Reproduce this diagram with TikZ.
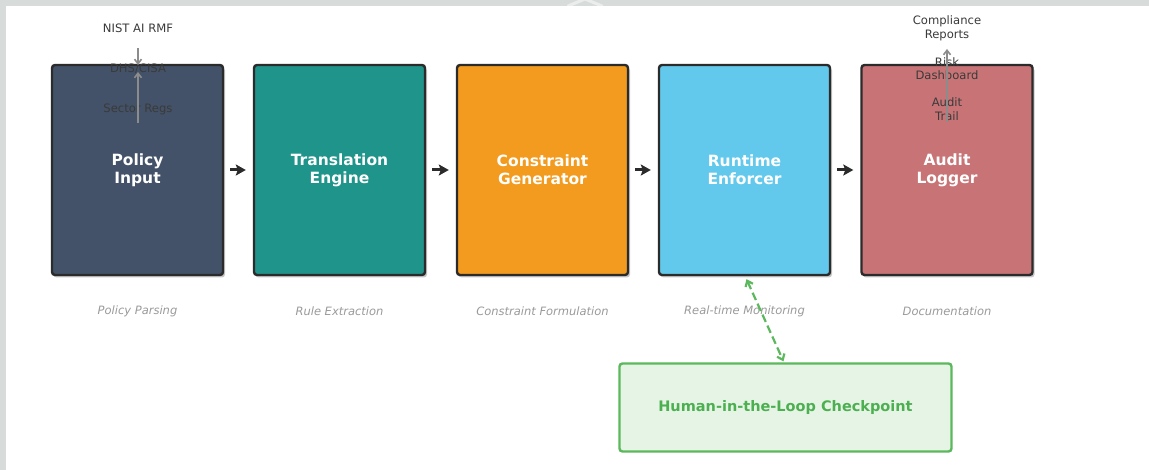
\documentclass[tikz,border=0pt]{standalone}
\usepackage{fontspec}
\setmainfont{DejaVu Sans}
\usetikzlibrary{arrows.meta,calc}

\definecolor{frame}{HTML}{D7DCDA}
\definecolor{slate}{HTML}{435268}
\definecolor{teal}{HTML}{1F948A}
\definecolor{amber}{HTML}{F29B1E}
\definecolor{sky}{HTML}{63C9EC}
\definecolor{rose}{HTML}{C87476}
\definecolor{edge}{HTML}{2B2B2B}
\definecolor{hgreen}{HTML}{5CB85C}
\definecolor{hfill}{HTML}{E6F4E6}
\definecolor{htext}{HTML}{4CAF50}
\definecolor{note}{HTML}{3A3A3A}
\definecolor{phase}{HTML}{9A9A9A}
\definecolor{feed}{HTML}{8C8C8C}

\tikzset{
  stage/.style={draw=edge, line width=2.4pt, rounded corners=3pt,
    minimum width=171pt, minimum height=210pt, inner sep=0pt,
    text=white, align=center,
    font=\fontsize{15.5}{18}\selectfont\bfseries},
  phaselabel/.style={text=phase, font=\fontsize{11.5}{14}\selectfont\itshape},
  sidenote/.style={text=note, align=center, inner sep=0pt,
    font=\fontsize{11.6}{13.5}\selectfont},
  flow/.style={-{Stealth[length=10pt,width=11pt,inset=2pt]}, line width=3pt, edge,
    shorten <=6pt, shorten >=7pt},
  feedarrow/.style={-{Straight Barb[length=4.5pt,width=7pt]}, line width=1.6pt, feed},
  shadowbox/.style={fill=black, opacity=0.22, rounded corners=3pt}
}

\begin{document}
\begin{tikzpicture}[x=1pt, y=-1pt]
  % page and frame
  \useasboundingbox (0,0) rectangle (1149,470);
  \fill[frame] (0,0) rectangle (1149,470);
  \fill[white] (6,6) rectangle (1149,470);
  \draw[white, line width=3pt, opacity=0.5, line cap=round]
    (568,6) -- (585,-1) -- (602,6);

  % drop shadows under the stages
  \foreach \cx in {137.5,339.5,542.5,744.5,947}
    \fill[shadowbox] (\cx-84,67.5) rectangle (\cx+87.5,277.5);

  % pipeline stages
  \node[stage, fill=slate] (policy)    at (137.5,170) {Policy\\Input};
  \node[stage, fill=teal]  (translate) at (339.5,170) {Translation\\Engine};
  \node[stage, fill=amber] (constrain) at (542.5,170) {Constraint\\Generator};
  \node[stage, fill=sky]   (runtime)   at (744.5,170) {Runtime\\Enforcer};
  \node[stage, fill=rose]  (audit)     at (947,170)   {Audit\\Logger};

  % phase captions
  \node[phaselabel] (capA) at (137.5,311) {Policy Parsing};
  \node[phaselabel] (capB) at (339.5,311) {Rule Extraction};
  \node[phaselabel] (capC) at (542.5,311) {Constraint Formulation};
  \node[phaselabel] (capD) at (744.5,311) {Real-time Monitoring};
  \node[phaselabel] (capE) at (947,311)   {Documentation};

  % flow between stages
  \draw[flow] (policy.east)    -- (translate.west);
  \draw[flow] (translate.east) -- (constrain.west);
  \draw[flow] (constrain.east) -- (runtime.west);
  \draw[flow] (runtime.east)   -- (audit.west);

  % policy sources
  \node[sidenote] (nist)   at (138,28)  {NIST AI RMF};
  \node[sidenote] (dhs)    at (138,69)  {DHS/CISA};
  \node[sidenote] (sector) at (138,109) {Sector Regs};
  \coordinate (nistTail) at (138,48);
  \coordinate (nistHead) at (138,65);
  \coordinate (sectTail) at (138,123);
  \coordinate (sectHead) at (138,72);
  \draw[feedarrow] (nistTail) -- (nistHead);
  \draw[feedarrow] (sectTail) -- (sectHead);

  % audit outputs
  \node[sidenote] (reports) at (947,28.5)  {Compliance\\Reports};
  \node[sidenote] (risk)    at (947,68.5)  {Risk\\Dashboard};
  \node[sidenote] (trail)   at (947,109) {Audit\\Trail};
  \coordinate (trailTail) at (947,122);
  \coordinate (trailHead) at (947,49);
  \draw[feedarrow] (trailTail) -- (trailHead);

  % human oversight
  \node[draw=hgreen, fill=hfill, line width=2.4pt, rounded corners=3pt,
        minimum width=332pt, minimum height=88pt, text=htext,
        font=\fontsize{14.5}{17}\selectfont\bfseries]
        (human) at (785.5,407.5) {Human-in-the-Loop Checkpoint};
  \coordinate (hTop) at ($(runtime.south)+(2,3)$);
  \coordinate (hBot) at ($(human.north)+(-2,-1)$);
  \draw[hgreen, line width=2.2pt, dash pattern=on 8pt off 4pt,
        {Straight Barb[length=5pt,width=8pt]}-{Straight Barb[length=5pt,width=8pt]}]
        (hTop) -- (hBot);
\end{tikzpicture}
\end{document}
